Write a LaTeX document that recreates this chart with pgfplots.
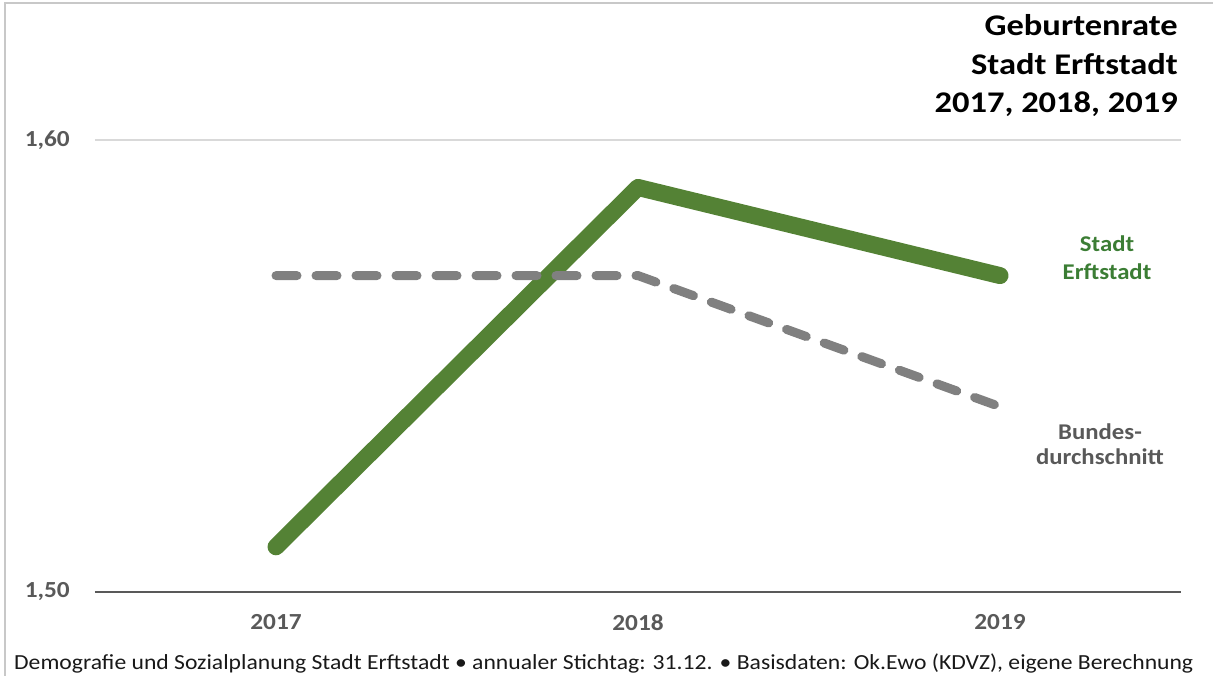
\documentclass[border=0pt]{standalone}
\usepackage{pgfplots}
\pgfplotsset{compat=1.18}
\usepackage{fontspec}
\setmainfont[FakeStretch=1.1]{Carlito}
\newfontfamily\titlefont[FakeStretch=1.15]{Carlito}
\definecolor{grn}{HTML}{548235}
\definecolor{grnlab}{HTML}{3B7D34}
\definecolor{dgray}{HTML}{595959}
\definecolor{lgray}{HTML}{D9D9D9}
\definecolor{lgray2}{HTML}{C8C8C8}
\definecolor{mgray}{HTML}{808080}
\begin{document}
\begin{tikzpicture}[x=1pt,y=1pt]
\path[use as bounding box] (0,0) rectangle (1213,676);
\draw[lgray2, line width=1.5pt] (5,-20) -- (5,673) -- (1230,673);
\begin{axis}[
  at={(95pt,84pt)}, anchor=south west,
  scale only axis, width=1086pt, height=452pt,
  xmin=-0.5, xmax=2.5, ymin=1.50, ymax=1.60,
  xtick={0,1,2}, xticklabels={\textbf{2017},\textbf{2018},\textbf{2019}},
  ytick={1.50,1.60}, yticklabels={\textbf{1,50},\textbf{1,60}},
  axis x line*=bottom, axis y line*=left,
  x axis line style={dgray, line width=1.8pt, -},
  y axis line style={draw=none},
  major tick length=0pt,
  ymajorgrids, grid style={lgray, line width=1.5pt},
  xticklabel style={font=\fontsize{23}{26}\selectfont, text=dgray, anchor=north, inner sep=0pt, yshift=-22pt},
  yticklabel style={font=\fontsize{23}{26}\selectfont, text=dgray, anchor=east, inner sep=0pt, xshift=-25pt},
  clip=false,
]
\addplot[grn, line width=17pt, line cap=round, line join=round] coordinates {(0,1.510) (1,1.5895) (2,1.570)};
\addplot[mgray, line width=9pt, line cap=round, dash pattern=on 21pt off 19pt] coordinates {(0,1.570) (1,1.570) (2,1.541)};
\end{axis}
\node[anchor=base east, inner sep=0pt, font=\titlefont\bfseries\fontsize{30}{34}\selectfont] at (1178,640) {Geburtenrate};
\node[anchor=base east, inner sep=0pt, font=\titlefont\bfseries\fontsize{30}{34}\selectfont] at (1178,601) {Stadt Erftstadt};
\node[anchor=base east, inner sep=0pt, font=\titlefont\bfseries\fontsize{30}{34}\selectfont] at (1178,563) {2017, 2018, 2019};
\node[anchor=base, inner sep=0pt, text=grnlab, font=\bfseries\fontsize{22.5}{26}\selectfont] at (1107,424) {Stadt};
\node[anchor=base, inner sep=0pt, text=grnlab, font=\bfseries\fontsize{22.5}{26}\selectfont] at (1107,396) {Erftstadt};
\node[anchor=base, inner sep=0pt, text=dgray, font=\bfseries\fontsize{22.5}{26}\selectfont] at (1100,236) {Bundes-};
\node[anchor=base, inner sep=0pt, text=dgray, font=\bfseries\fontsize{22.5}{26}\selectfont] at (1100,211) {durchschnitt};
\node[anchor=base west, inner sep=0pt, text=black!90, font=\fontsize{21.5}{24}\selectfont] at (14,6.5) {Demografie und Sozialplanung Stadt Erftstadt \textbullet{} annualer Stichtag: 31.12. \textbullet{} Basisdaten: Ok.Ewo (KDVZ), eigene Berechnung};
\end{tikzpicture}
\end{document}
